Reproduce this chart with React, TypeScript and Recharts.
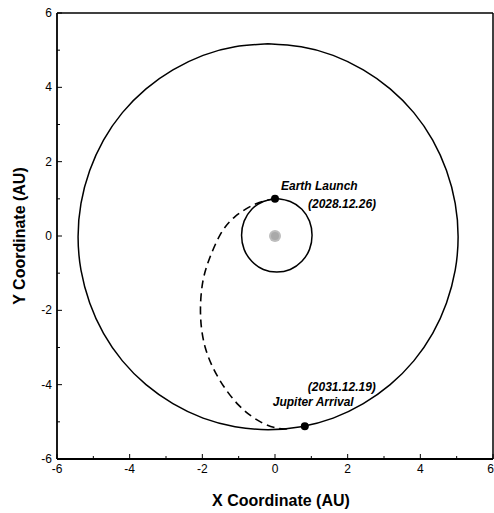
import React from 'react';
import { ScatterChart, Scatter, XAxis, YAxis, ReferenceLine } from 'recharts';

// Axis ticks (AU)
const axisTicks = [-6, -5, -4, -3, -2, -1, 0, 1, 2, 3, 4, 5, 6];

// Jupiter orbit (AU)
const jupiterOrbit = [
  { x: -0.19, y: 5.17 }, { x: -1.1, y: 5.09 }, { x: -1.98, y: 4.86 }, { x: -2.81, y: 4.47 },
  { x: -3.55, y: 3.96 }, { x: -4.2, y: 3.32 }, { x: -4.72, y: 2.58 }, { x: -5.1, y: 1.76 },
  { x: -5.34, y: 0.88 }, { x: -5.42, y: -0.02 }, { x: -5.34, y: -0.92 }, { x: -5.1, y: -1.8 },
  { x: -4.72, y: -2.62 }, { x: -4.2, y: -3.36 }, { x: -3.55, y: -4.0 }, { x: -2.81, y: -4.51 },
  { x: -1.98, y: -4.9 }, { x: -1.1, y: -5.13 }, { x: -0.19, y: -5.21 }, { x: 0.72, y: -5.13 },
  { x: 1.6, y: -4.9 }, { x: 2.43, y: -4.51 }, { x: 3.17, y: -4.0 }, { x: 3.82, y: -3.36 },
  { x: 4.34, y: -2.62 }, { x: 4.72, y: -1.8 }, { x: 4.96, y: -0.92 }, { x: 5.04, y: -0.02 },
  { x: 4.96, y: 0.88 }, { x: 4.72, y: 1.76 }, { x: 4.34, y: 2.58 }, { x: 3.82, y: 3.32 },
  { x: 3.17, y: 3.96 }, { x: 2.43, y: 4.47 }, { x: 1.6, y: 4.86 }, { x: 0.72, y: 5.09 },
  { x: -0.19, y: 5.17 },
];

// Earth orbit (AU)
const earthOrbit = [
  { x: 0.05, y: 1.01 }, { x: -0.32, y: 0.93 }, { x: -0.64, y: 0.72 }, { x: -0.85, y: 0.4 },
  { x: -0.92, y: 0.02 }, { x: -0.85, y: -0.36 }, { x: -0.64, y: -0.68 }, { x: -0.32, y: -0.9 },
  { x: 0.05, y: -0.97 }, { x: 0.42, y: -0.9 }, { x: 0.74, y: -0.68 }, { x: 0.95, y: -0.36 },
  { x: 1.02, y: 0.02 }, { x: 0.95, y: 0.4 }, { x: 0.74, y: 0.72 }, { x: 0.42, y: 0.93 },
  { x: 0.05, y: 1.01 },
];

// Transfer trajectory (dashed) (AU)
const transfer = [
  { x: 0.0, y: 1.0 }, { x: -0.52, y: 0.87 }, { x: -1.1, y: 0.52 }, { x: -1.5, y: 0.05 },
  { x: -1.8, y: -0.6 }, { x: -1.99, y: -1.25 }, { x: -2.05, y: -2.1 }, { x: -1.92, y: -3.0 },
  { x: -1.55, y: -3.83 }, { x: -1.0, y: -4.55 }, { x: -0.4, y: -5.0 }, { x: 0.1, y: -5.18 },
  { x: 0.4, y: -5.18 },
];

// Sun at the origin
const sun = [{ x: 0, y: 0 }];

// Events
const launchEvent = [{ x: 0.0, y: 1.0, name: 'Earth Launch', date: '(2028.12.26)' }];
const arrivalEvent = [{ x: 0.82, y: -5.12, name: 'Jupiter Arrival', date: '(2031.12.19)' }];

const FONT = '"Liberation Sans", Arial, Helvetica, sans-serif';

const XTick = (props: any) => {
  const { x, y, payload } = props;
  const v = payload.value as number;
  const major = v % 2 === 0;
  const last = v === 6;
  return (
    <g>
      <line x1={x} x2={x} y1={y} y2={y - (major ? 5 : 3)} stroke="#000" strokeWidth={1} />
      {major && (
        <text
          x={last ? x + 1 : x}
          y={y + 14}
          textAnchor={last ? 'end' : 'middle'}
          fontSize={12}
          fontFamily={FONT}
          fill="#000"
        >
          {String(v)}
        </text>
      )}
    </g>
  );
};

const YTick = (props: any) => {
  const { x, y, payload } = props;
  const v = payload.value as number;
  const major = v % 2 === 0;
  return (
    <g>
      <line x1={x} x2={x + (major ? 5 : 3)} y1={y} y2={y} stroke="#000" strokeWidth={1} />
      {major && (
        <text x={x - 5} y={y + 4} textAnchor="end" fontSize={12} fontFamily={FONT} fill="#000">
          {String(v)}
        </text>
      )}
    </g>
  );
};

const noPoint = () => <g />;

const SunShape = (props: any) => (
  <g>
    <circle cx={props.cx} cy={props.cy} r={6} fill="#bdbdbd" stroke="none" />
    <circle cx={props.cx} cy={props.cy} r={4} fill="#a9a9a9" stroke="none" />
  </g>
);

const LaunchShape = (props: any) => {
  const { cx, cy, payload } = props;
  return (
    <g>
      <circle cx={cx} cy={cy} r={4} fill="#000" />
      <text x={cx + 6} y={cy - 9} fontSize={12} fontWeight="bold" fontStyle="italic" fontFamily={FONT} fill="#000">
        {payload.name}
      </text>
      <text x={cx + 33} y={cy + 9} fontSize={12} fontWeight="bold" fontStyle="italic" fontFamily={FONT} fill="#000">
        {payload.date}
      </text>
    </g>
  );
};

const ArrivalShape = (props: any) => {
  const { cx, cy, payload } = props;
  return (
    <g>
      <circle cx={cx} cy={cy} r={4} fill="#000" />
      <text x={cx + 3} y={cy - 35} fontSize={12} fontWeight="bold" fontStyle="italic" fontFamily={FONT} fill="#000">
        {payload.date}
      </text>
      <text x={cx - 32} y={cy - 20} fontSize={12} fontWeight="bold" fontStyle="italic" fontFamily={FONT} fill="#000">
        {payload.name}
      </text>
    </g>
  );
};

export default function App() {
  return (
    <div style={{ position: 'absolute', left: 0, top: 0, width: 494, height: 513, background: '#fff' }}>
      <ScatterChart width={494} height={513} margin={{ top: 13, right: 1, bottom: 0, left: 0 }}>
        <XAxis
          type="number"
          dataKey="x"
          domain={[-6, 6]}
          ticks={axisTicks}
          interval={0}
          allowDataOverflow
          height={54}
          axisLine={{ stroke: '#000', strokeWidth: 1.8 }}
          tickLine={false}
          tickSize={0}
          tickMargin={0}
          tick={<XTick />}
          label={{
            content: (p: any) => {
              const vb = p.viewBox || { x: 57, y: 459, width: 436, height: 54 };
              return (
                <text
                  x={vb.x + vb.width / 2 + 6}
                  y={vb.y + 47}
                  textAnchor="middle"
                  fontSize={16}
                  fontWeight="bold"
                  fontFamily={FONT}
                  fill="#000"
                >
                  X Coordinate (AU)
                </text>
              );
            },
          }}
        />
        <YAxis
          type="number"
          dataKey="y"
          domain={[-6, 6]}
          ticks={axisTicks}
          interval={0}
          allowDataOverflow
          width={57}
          axisLine={{ stroke: '#000', strokeWidth: 1.8 }}
          tickLine={false}
          tickSize={0}
          tickMargin={0}
          tick={<YTick />}
          label={{
            content: (p: any) => {
              const vb = p.viewBox || { x: 0, y: 13, width: 57, height: 446 };
              const cx = 25;
              const cy = vb.y + vb.height / 2;
              return (
                <text
                  x={cx}
                  y={cy}
                  transform={`rotate(-90, ${cx}, ${cy})`}
                  textAnchor="middle"
                  fontSize={16}
                  fontWeight="bold"
                  fontFamily={FONT}
                  fill="#000"
                >
                  Y Coordinate (AU)
                </text>
              );
            },
          }}
        />
        <ReferenceLine y={6} stroke="#000" strokeWidth={1.5} />
        <ReferenceLine x={6} stroke="#000" strokeWidth={1.5} />
        <Scatter
          data={jupiterOrbit}
          line={{ stroke: '#000', strokeWidth: 1.5 }}
          lineJointType="natural"
          shape={noPoint}
          isAnimationActive={false}
          legendType="none"
        />
        <Scatter
          data={earthOrbit}
          line={{ stroke: '#000', strokeWidth: 1.5 }}
          lineJointType="natural"
          shape={noPoint}
          isAnimationActive={false}
          legendType="none"
        />
        <Scatter
          data={transfer}
          line={{ stroke: '#000', strokeWidth: 1.6, strokeDasharray: '8 5' }}
          lineJointType="natural"
          shape={noPoint}
          isAnimationActive={false}
          legendType="none"
        />
        <Scatter data={sun} shape={SunShape} isAnimationActive={false} legendType="none" />
        <Scatter data={launchEvent} shape={LaunchShape} isAnimationActive={false} legendType="none" />
        <Scatter data={arrivalEvent} shape={ArrivalShape} isAnimationActive={false} legendType="none" />
      </ScatterChart>
    </div>
  );
}
